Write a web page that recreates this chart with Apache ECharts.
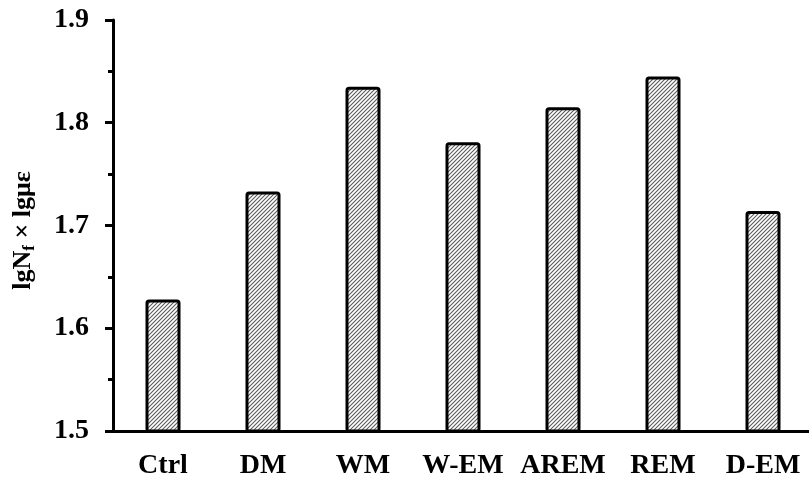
<!DOCTYPE html>
<html><head><meta charset="utf-8">
<script src="https://cdn.jsdelivr.net/npm/echarts@6/dist/echarts.min.js"></script>
<style>html,body{margin:0;padding:0;background:#fff}#c{width:809px;height:480px}</style>
</head><body><div id="c"></div>
<script>
const categories = ['Ctrl', 'DM', 'WM', 'W-EM', 'AREM', 'REM', 'D-EM'];
const values = [1.628, 1.733, 1.835, 1.781, 1.815, 1.845, 1.714];
const yTicks = [1.5, 1.6, 1.7, 1.8, 1.9];

const pc = document.createElement('canvas');
pc.width = 4; pc.height = 4;
const ctx = pc.getContext('2d');
ctx.fillStyle = '#fff'; ctx.fillRect(0, 0, 4, 4);
ctx.strokeStyle = '#5a5a5a'; ctx.lineWidth = 1.1;
ctx.beginPath();
ctx.moveTo(-1, 5); ctx.lineTo(5, -1);
ctx.moveTo(-1, 1); ctx.lineTo(1, -1);
ctx.moveTo(3, 5); ctx.lineTo(5, 3);
ctx.stroke();

const font = '"Liberation Serif", "Times New Roman", serif';
const chart = echarts.init(document.getElementById('c'), null, {renderer: 'canvas'});
chart.setOption({
  animation: false,
  grid: {left: 113, top: 20, width: 700, height: 411, containLabel: false, outerBoundsMode: 'none'},
  xAxis: {
    type: 'category', data: categories,
    axisLine: {lineStyle: {color: '#000', width: 3}},
    axisTick: {show: false},
    axisLabel: {interval: 0, hideOverlap: false, color: '#000', fontFamily: font, fontWeight: 'bold', fontSize: 28, margin: 21}
  },
  yAxis: {
    type: 'value', min: yTicks[0], max: yTicks[yTicks.length - 1], interval: 0.1,
    name: '{a|lgN}{s|f}{a| × lgμε}',
    nameLocation: 'middle', nameGap: 75, nameRotate: 90,
    nameTextStyle: {
      padding: [0, 10, 0, 0],
      rich: {
        a: {fontFamily: font, fontWeight: 'bold', fontSize: 26, color: '#000'},
        s: {fontFamily: font, fontWeight: 'bold', fontSize: 17, color: '#000', padding: [12, 0, 0, 0]}
      }
    },
    axisLine: {show: true, lineStyle: {color: '#000', width: 3}},
    axisTick: {show: true, inside: false, length: 8, lineStyle: {color: '#000', width: 3}},
    minorTick: {show: true, splitNumber: 2, length: 5, lineStyle: {color: '#000', width: 3}},
    splitLine: {show: false},
    axisLabel: {color: '#000', fontFamily: font, fontWeight: 'bold', fontSize: 28, margin: 24,
      formatter: v => v.toFixed(1)}
  },
  series: [{
    type: 'bar', data: values, barWidth: 35,
    itemStyle: {
      color: {image: pc, repeat: 'repeat'},
      borderColor: '#000', borderWidth: 3, borderRadius: 2
    }
  }]
});
</script></body></html>
